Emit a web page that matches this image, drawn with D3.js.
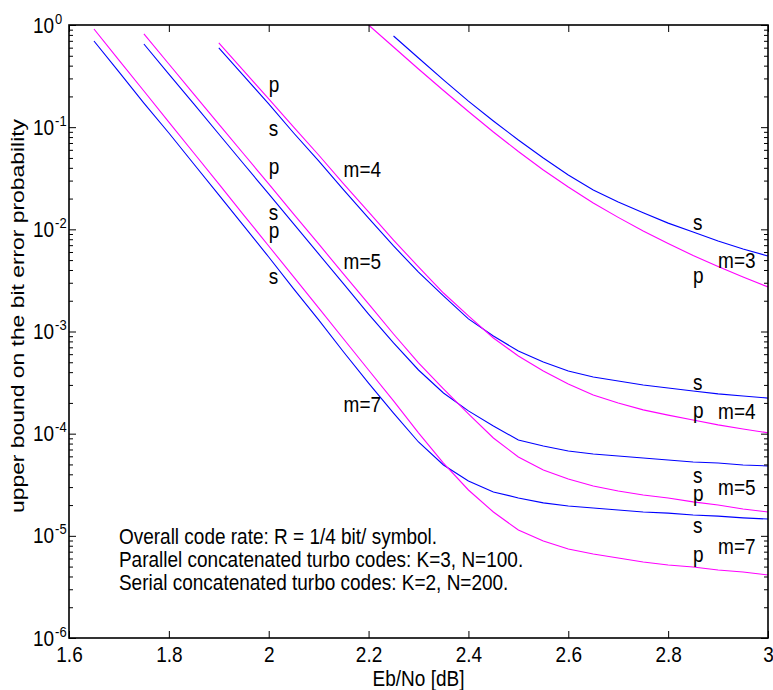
<!DOCTYPE html>
<html>
<head>
<meta charset="utf-8">
<script src="https://cdn.jsdelivr.net/npm/d3@7"></script>
<style>
  body { margin: 0; background: #fff; }
  svg text { font-family: "Liberation Sans", Arial, Helvetica, sans-serif; fill: #000; }
</style>
</head>
<body>
<svg id="chart" width="773" height="690"></svg>
<script>
// Eb/No grid (dB) shared by every curve
const ebNo = [1.65, 1.70, 1.75, 1.80, 1.85, 1.90, 1.95, 2.00, 2.05, 2.10, 2.15, 2.20, 2.25, 2.30,
              2.35, 2.40, 2.45, 2.50, 2.55, 2.60, 2.65, 2.70, 2.75, 2.80, 2.85, 2.90, 2.95, 3.00];

// Upper bounds on the bit error probability (null = not computed at that Eb/No)
// p = parallel concatenated, s = serial concatenated, m = interleaver exponent
const p3 = [null, null, null, null, null, null, null, null, null, null, null,
            1.0, 0.609, 0.371, 0.2285, 0.1424, 0.0897, 0.0578, 0.0381, 0.0260, 0.0181,
            0.0131, 9.63e-3, 7.27e-3, 5.55e-3, 4.33e-3, 3.42e-3, 2.73e-3];
const s3 = [null, null, null, null, null, null, null, null, null, null, null, null,
            0.780, 0.475, 0.290, 0.180, 0.115, 0.0749, 0.0499, 0.0340, 0.0243, 0.0185,
            0.0145, 0.0115, 9.42e-3, 7.69e-3, 6.42e-3, 5.48e-3];
const p4 = [null, null, null, null, null,
            0.667, 0.355, 0.189, 0.100, 0.0534, 0.0278, 0.0148, 7.86e-3, 4.28e-3, 2.38e-3,
            1.42e-3, 8.64e-4, 5.76e-4, 4.11e-4, 3.06e-4, 2.39e-4, 2.00e-4, 1.71e-4, 1.52e-4,
            1.36e-4, 1.22e-4, 1.11e-4, 1.02e-4];
const s4 = [null, null, null, null, null,
            0.596, 0.317, 0.169, 0.0877, 0.0467, 0.0243, 0.0129, 6.87e-3, 3.82e-3, 2.23e-3,
            1.33e-3, 9.04e-4, 6.44e-4, 5.03e-4, 4.11e-4, 3.59e-4, 3.28e-4, 3.00e-4, 2.80e-4,
            2.62e-4, 2.45e-4, 2.34e-4, 2.23e-4];
const p5 = [null, null,
            0.817, 0.415, 0.211, 0.107, 0.0546, 0.0278, 0.0141, 7.19e-3, 3.65e-3, 1.86e-3,
            9.45e-4, 4.92e-4, 2.74e-4, 1.56e-4, 9.07e-5, 5.91e-5, 4.41e-5, 3.60e-5, 3.08e-5,
            2.75e-5, 2.51e-5, 2.35e-5, 2.15e-5, 2.00e-5, 1.83e-5, 1.71e-5];
const s5 = [null, null,
            0.652, 0.331, 0.169, 0.0857, 0.0436, 0.0222, 0.0113, 5.74e-3, 2.92e-3, 1.48e-3,
            7.72e-4, 4.20e-4, 2.50e-4, 1.67e-4, 1.19e-4, 8.67e-5, 7.57e-5, 6.77e-5, 6.33e-5,
            6.05e-5, 5.78e-5, 5.53e-5, 5.28e-5, 5.16e-5, 4.94e-5, 4.83e-5];
const p7 = [0.914, 0.454, 0.226, 0.112, 0.0559, 0.0278, 0.0138, 6.87e-3, 3.42e-3, 1.70e-3,
            8.45e-4, 4.20e-4, 2.09e-4, 1.02e-4, 5.16e-5, 2.81e-5, 1.71e-5, 1.14e-5, 8.91e-6,
            7.43e-6, 6.64e-6, 6.07e-6, 5.55e-6, 5.18e-6, 4.95e-6, 4.63e-6, 4.43e-6, 4.14e-6];
const s7 = [0.697, 0.347, 0.172, 0.0877, 0.0436, 0.0217, 0.0108, 5.36e-3, 2.61e-3, 1.30e-3,
            6.30e-4, 3.13e-4, 1.59e-4, 8.29e-5, 4.94e-5, 3.44e-5, 2.69e-5, 2.35e-5, 2.10e-5,
            1.96e-5, 1.87e-5, 1.79e-5, 1.71e-5, 1.67e-5, 1.60e-5, 1.56e-5, 1.50e-5, 1.46e-5];

// Axis ticks
const xTicks = [1.6, 1.8, 2.0, 2.2, 2.4, 2.6, 2.8, 3.0];
const xTickLabels = ["1.6", "1.8", "2", "2.2", "2.4", "2.6", "2.8", "3"];
const yExponents = [0, -1, -2, -3, -4, -5, -6];

// Curve tags: [text, Eb/No, probability]
const curveNotes = [
  ["p", 2.0, 0.221], ["s", 2.0, 0.0819], ["p", 2.0, 0.0348], ["m=4", 2.15, 0.0325],
  ["s", 2.0, 0.0123], ["p", 2.0, 8.23e-3], ["m=5", 2.15, 4.09e-3], ["s", 2.0, 2.92e-3],
  ["m=7", 2.15, 1.63e-4],
  ["s", 2.85, 9.85e-3], ["m=3", 2.9, 4.18e-3], ["p", 2.85, 2.98e-3],
  ["s", 2.85, 2.68e-4], ["p", 2.85, 1.42e-4], ["m=4", 2.9, 1.39e-4],
  ["s", 2.85, 3.29e-5], ["m=5", 2.9, 2.51e-5], ["p", 2.85, 2.19e-5],
  ["s", 2.85, 1.07e-5], ["m=7", 2.9, 6.64e-6], ["p", 2.85, 5.55e-6]
];

const infoLines = [
  "Overall code rate: R = 1/4 bit/ symbol.",
  "Parallel concatenated turbo codes: K=3, N=100.",
  "Serial concatenated turbo codes: K=2, N=200."
];

const SERIAL = "#0000ff", PARALLEL = "#ff00ff";
const series = [
  { values: s3, color: SERIAL }, { values: p3, color: PARALLEL },
  { values: s4, color: SERIAL }, { values: p4, color: PARALLEL },
  { values: s5, color: SERIAL }, { values: p5, color: PARALLEL },
  { values: s7, color: SERIAL }, { values: p7, color: PARALLEL }
];

// ---- layout ----
const plot = { left: 69, right: 768, top: 25, bottom: 638 };
const FONT = 19, STRETCH = 1.12;

const x = d3.scaleLinear().domain([1.6, 3]).range([plot.left, plot.right]);
const y = d3.scaleLog().domain([1e-6, 1]).range([plot.bottom, plot.top]);

const svg = d3.select("#chart");

svg.append("defs").append("clipPath").attr("id", "plot-area")
  .append("rect")
  .attr("x", plot.left).attr("y", plot.top)
  .attr("width", plot.right - plot.left).attr("height", plot.bottom - plot.top);

// ---- curves ----
const line = d3.line()
  .defined(d => d[1] != null)
  .x(d => x(d[0]))
  .y(d => y(d[1]));

svg.append("g").attr("clip-path", "url(#plot-area)")
  .selectAll("path")
  .data(series)
  .join("path")
  .attr("fill", "none")
  .attr("stroke", d => d.color)
  .attr("stroke-width", 1.1)
  .attr("d", d => line(ebNo.map((e, i) => [e, d.values[i]])));

// ---- axes (ticks point inward on all four sides) ----
const yMajor = yExponents.map(k => Math.pow(10, k));
const yMinor = [];
yExponents.slice(1).forEach(k => {
  for (let m = 2; m <= 9; m++) yMinor.push(m * Math.pow(10, k));
});

function clean(g) { g.select(".domain").remove(); g.selectAll("line").attr("stroke", "#000").attr("stroke-width", 1); }

const bottom = svg.append("g").attr("transform", `translate(0,${plot.bottom})`)
  .call(d3.axisBottom(x).tickValues(xTicks).tickSize(-7).tickSizeOuter(0)
        .tickFormat((d, i) => xTickLabels[i]))
  .call(clean);
bottom.selectAll("text")
  .attr("y", null).attr("dy", null)
  .attr("font-size", FONT).attr("font-family", null)
  .attr("transform", `translate(0,24) scale(1,${STRETCH})`);

svg.append("g").attr("transform", `translate(0,${plot.top})`)
  .call(d3.axisTop(x).tickValues(xTicks).tickSize(-7).tickSizeOuter(0).tickFormat(""))
  .call(clean);

const left = svg.append("g").attr("transform", `translate(${plot.left},0)`)
  .call(d3.axisLeft(y).tickValues(yMajor).tickSize(-7).tickSizeOuter(0).tickFormat(""))
  .call(clean);
svg.append("g").attr("transform", `translate(${plot.left},0)`)
  .call(d3.axisLeft(y).tickValues(yMinor).tickSize(-4).tickSizeOuter(0).tickFormat(""))
  .call(clean);
svg.append("g").attr("transform", `translate(${plot.right},0)`)
  .call(d3.axisRight(y).tickValues(yMajor).tickSize(-7).tickSizeOuter(0).tickFormat(""))
  .call(clean);
svg.append("g").attr("transform", `translate(${plot.right},0)`)
  .call(d3.axisRight(y).tickValues(yMinor).tickSize(-4).tickSizeOuter(0).tickFormat(""))
  .call(clean);

// power-of-ten labels on the left axis
left.selectAll(".tick").each(function (d) {
  const t = d3.select(this).select("text");
  t.attr("x", null).attr("dy", null).attr("text-anchor", "start")
    .attr("font-size", FONT).attr("font-family", null)
    .attr("transform", `translate(${33 - plot.left},7) scale(1,${STRETCH})`)
    .text(null);
  t.append("tspan").text("10");
  t.append("tspan").attr("font-size", 13).attr("dx", 1).attr("dy", -8)
    .text(String(Math.round(Math.log10(d))));
});

// plot frame
svg.append("rect")
  .attr("x", plot.left).attr("y", plot.top)
  .attr("width", plot.right - plot.left).attr("height", plot.bottom - plot.top)
  .attr("fill", "none").attr("stroke", "#000").attr("stroke-width", 1.6);

// ---- text ----
function label(px, py, str) {
  return svg.append("text")
    .attr("font-size", FONT)
    .attr("transform", `translate(${px},${py}) scale(1,${STRETCH})`)
    .text(str);
}

svg.append("g").selectAll("text")
  .data(curveNotes)
  .join("text")
  .attr("font-size", FONT)
  .attr("transform", d => `translate(${x(d[1])},${y(d[2])}) scale(1,${STRETCH})`)
  .text(d => d[0]);

infoLines.forEach((s, i) => label(x(1.7), 544 + i * 23, s));

label((plot.left + plot.right) / 2, 686, "Eb/No [dB]").attr("text-anchor", "middle");

svg.append("text")
  .attr("font-size", FONT)
  .attr("text-anchor", "middle")
  .attr("transform", "translate(24,316) rotate(-90)")
  .attr("textLength", 394).attr("lengthAdjust", "spacingAndGlyphs")
  .text("upper bound on the bit error probability");
</script>
</body>
</html>
